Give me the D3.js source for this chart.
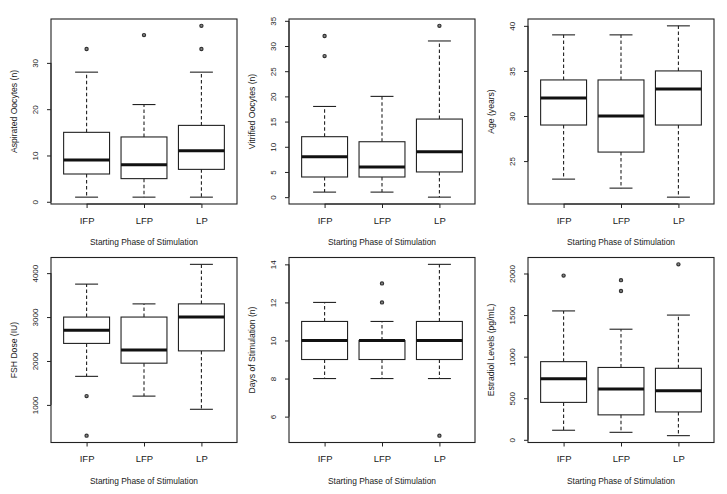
<!DOCTYPE html>
<html>
<head>
<meta charset="utf-8">
<script src="https://cdn.jsdelivr.net/npm/d3@7"></script>
<style>
  html, body { margin: 0; padding: 0; background: #fff; }
  svg { display: block; }
  text { font-family: "Liberation Sans", Arial, Helvetica, sans-serif; fill: #1a1a1a; }
</style>
</head>
<body>
<svg id="chart" width="727" height="494"></svg>
<script>
// ---------- DATA ----------
const categories = ["IFP", "LFP", "LP"];
const xAxisTitle = "Starting Phase of Stimulation";

// stats per category: [lower whisker, Q1, median, Q3, upper whisker]
const aspiratedStats    = [[1, 6, 9, 15, 28], [1, 5, 8, 14, 21], [1, 7, 11, 16.5, 28]];
const aspiratedOutliers = [[33], [36], [33, 38]];
const aspiratedTicks    = [0, 10, 20, 30];

const vitrifiedStats    = [[1, 4, 8, 12, 18], [1, 4, 6, 11, 20], [0, 5, 9, 15.5, 31]];
const vitrifiedOutliers = [[28, 32], [], [34]];
const vitrifiedTicks    = [0, 5, 10, 15, 20, 25, 30, 35];

const ageStats    = [[23, 29, 32, 34, 39], [22, 26, 30, 34, 39], [21, 29, 33, 35, 40]];
const ageOutliers = [[], [], []];
const ageTicks    = [25, 30, 35, 40];

const fshStats    = [[1650, 2400, 2700, 3000, 3750], [1200, 1950, 2250, 3000, 3300], [900, 2230, 3000, 3300, 4200]];
const fshOutliers = [[300, 1200], [], []];
const fshTicks    = [1000, 2000, 3000, 4000];

const daysStats    = [[8, 9, 10, 11, 12], [8, 9, 10, 10, 11], [8, 9, 10, 11, 14]];
const daysOutliers = [[], [12, 13], [5]];
const daysTicks    = [6, 8, 10, 12, 14];

const estradiolStats    = [[115, 450, 735, 940, 1550], [90, 300, 610, 870, 1330], [50, 335, 590, 860, 1500]];
const estradiolOutliers = [[1975], [1790, 1920], [2110]];
const estradiolTicks    = [0, 500, 1000, 1500, 2000];

const yTitles = ["Aspirated Oocytes (n)", "Vitrified Oocytes (n)", "Age (years)",
                 "FSH Dose (IU)", "Days of Stimulation (n)", "Estradiol Levels (pg/mL)"];

const panels = [
  { stats: aspiratedStats, outliers: aspiratedOutliers, ticks: aspiratedTicks },
  { stats: vitrifiedStats, outliers: vitrifiedOutliers, ticks: vitrifiedTicks },
  { stats: ageStats, outliers: ageOutliers, ticks: ageTicks },
  { stats: fshStats, outliers: fshOutliers, ticks: fshTicks },
  { stats: daysStats, outliers: daysOutliers, ticks: daysTicks },
  { stats: estradiolStats, outliers: estradiolOutliers, ticks: estradiolTicks }
].map((p, i) => Object.assign(p, { title: yTitles[i] }));

// ---------- LAYOUT ----------
const colLefts = [51, 289, 528];
const rowTops = [19, 257.5];
const plotW = 186, plotH = 185;
const ink = "#222";

const svg = d3.select("#chart");

panels.forEach((p, i) => {
  const col = i % 3, row = Math.floor(i / 3);
  const g = svg.append("g").attr("transform", `translate(${colLefts[col]},${rowTops[row]})`);

  // R-style scales (4% extension)
  const xs = d3.scaleLinear().domain([0.38, 3.62]).range([0, plotW]);
  const allVals = p.stats.flat().concat(p.outliers.flat());
  const lo = d3.min(allVals), hi = d3.max(allVals), ext = (hi - lo) * 0.04;
  const ys = d3.scaleLinear().domain([lo - ext, hi + ext]).range([plotH, 0]);

  const catX = c => xs(categories.indexOf(c) + 1);
  const halfBox = xs(1.4) - xs(1);
  const halfCap = xs(1.2) - xs(1);

  // boxes
  categories.forEach((c, k) => {
    const [wl, q1, med, q3, wh] = p.stats[k];
    const cx = catX(c);
    const bg = g.append("g");
    // whiskers (dashed)
    bg.append("line").attr("x1", cx).attr("x2", cx).attr("y1", ys(q3)).attr("y2", ys(wh))
      .attr("stroke", ink).attr("stroke-width", 1.1).attr("stroke-dasharray", "3.5,2.5");
    bg.append("line").attr("x1", cx).attr("x2", cx).attr("y1", ys(q1)).attr("y2", ys(wl))
      .attr("stroke", ink).attr("stroke-width", 1.1).attr("stroke-dasharray", "3.5,2.5");
    // staples
    [wl, wh].forEach(v => {
      bg.append("line").attr("x1", cx - halfCap).attr("x2", cx + halfCap)
        .attr("y1", ys(v)).attr("y2", ys(v)).attr("stroke", ink).attr("stroke-width", 1.1);
    });
    // box
    bg.append("rect").attr("x", cx - halfBox).attr("y", ys(q3))
      .attr("width", 2 * halfBox).attr("height", ys(q1) - ys(q3))
      .attr("fill", "none").attr("stroke", ink).attr("stroke-width", 1.1);
    // median
    bg.append("line").attr("x1", cx - halfBox).attr("x2", cx + halfBox)
      .attr("y1", ys(med)).attr("y2", ys(med)).attr("stroke", "#111").attr("stroke-width", 3);
    // outliers
    bg.selectAll("circle").data(p.outliers[k]).join("circle")
      .attr("cx", cx).attr("cy", d => ys(d)).attr("r", 1.6)
      .attr("fill", "#888").attr("stroke", "#333").attr("stroke-width", 1.2);
  });

  // frame
  g.append("rect").attr("x", 0).attr("y", 0).attr("width", plotW).attr("height", plotH)
    .attr("fill", "none").attr("stroke", ink).attr("stroke-width", 1.1);

  // y axis
  const yAxis = d3.axisLeft(ys).tickValues(p.ticks).tickSize(4).tickPadding(5)
    .tickFormat(d3.format("d"));
  const ya = g.append("g").call(yAxis);
  ya.select(".domain").attr("d", `M-0,${ys(d3.min(p.ticks))}V${ys(d3.max(p.ticks))}`).attr("stroke", ink);
  ya.selectAll(".tick line").attr("stroke", ink);
  ya.selectAll(".tick text")
    .attr("x", 0).attr("dy", null)
    .attr("transform", "translate(-16,0) rotate(-90)")
    .attr("text-anchor", "middle").attr("dominant-baseline", "central")
    .style("font-size", "8px").style("font-family", null).attr("fill", "#1a1a1a");

  // x axis
  const xAxis = d3.axisBottom(xs).tickValues([1, 2, 3]).tickSize(4).tickPadding(6)
    .tickFormat(d => categories[d - 1]);
  const xa = g.append("g").attr("transform", `translate(0,${plotH})`).call(xAxis);
  xa.select(".domain").attr("d", `M${xs(1)},0H${xs(3)}`).attr("stroke", ink);
  xa.selectAll(".tick line").attr("stroke", ink);
  xa.selectAll(".tick text").attr("y", 16).attr("dy", null)
    .attr("dominant-baseline", "central")
    .style("font-size", "9.5px").style("font-family", null).attr("fill", "#1a1a1a");
  ya.attr("font-family", null).attr("font-size", null);
  xa.attr("font-family", null).attr("font-size", null);

  // titles
  g.append("text").attr("x", plotW / 2).attr("y", plotH + 38)
    .attr("text-anchor", "middle").attr("dominant-baseline", "central")
    .style("font-size", "8.4px").text(xAxisTitle);
  g.append("text").attr("transform", `translate(-37,${plotH / 2}) rotate(-90)`)
    .attr("text-anchor", "middle").attr("dominant-baseline", "central")
    .style("font-size", "8.6px").text(p.title);
});
</script>
</body>
</html>
